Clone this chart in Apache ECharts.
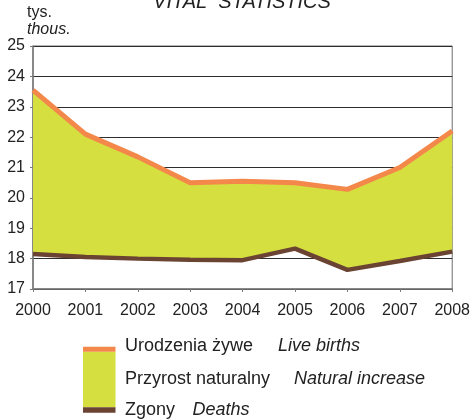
<!DOCTYPE html>
<html>
<head>
<meta charset="utf-8">
<script src="https://cdn.jsdelivr.net/npm/echarts@6/dist/echarts.min.js"></script>
<style>html,body{margin:0;padding:0;background:#fff}#c{width:473px;height:420px}</style>
</head>
<body>
<div id="c"></div>
<script>
var years = ['2000','2001','2002','2003','2004','2005','2006','2007','2008'];
var liveBirths = [23.55, 22.1, 21.35, 20.5, 20.55, 20.5, 20.28, 21.0, 22.2];
var deaths = [18.15, 18.05, 18.0, 17.96, 17.95, 18.33, 17.63, 17.92, 18.23];
var increase = liveBirths.map(function (v, i) { return +(v - deaths[i]).toFixed(3); });

var ORANGE = '#f4874a', GREEN = '#d5df3f', BROWN = '#6b4333';
var FONT = '"Liberation Sans", Arial, sans-serif';

var chart = echarts.init(document.getElementById('c'), null, {renderer: 'canvas'});
chart.setOption({
  animation: false,
  grid: {left: 33, right: 19, top: 46, bottom: 131, show: true, borderColor: '#6e6e6e', borderWidth: 1, backgroundColor: 'transparent'},
  xAxis: {
    type: 'category', data: years, boundaryGap: false,
    axisLine: {lineStyle: {color: '#7a7a7a', width: 1.5}},
    axisTick: {show: true, length: 3, inside: false, lineStyle: {color: '#7a7a7a'}},
    axisLabel: {color: '#222', fontFamily: FONT, fontSize: 16, margin: 14}
  },
  yAxis: {
    type: 'value', min: 17, max: 25, interval: 1,
    axisLine: {show: true, lineStyle: {color: '#7a7a7a', width: 1.5}},
    axisTick: {show: true, length: 3, lineStyle: {color: '#7a7a7a'}},
    axisLabel: {color: '#222', fontFamily: FONT, fontSize: 16, margin: 8},
    splitLine: {show: true, lineStyle: {color: '#2e2e2e', width: 1}}
  },
  series: [
    {name: 'base', type: 'line', stack: 'a', data: deaths, showSymbol: false, symbol: 'none',
     lineStyle: {width: 0, opacity: 0}, areaStyle: {opacity: 0}, z: 2},
    {name: 'Przyrost naturalny', type: 'line', stack: 'a', data: increase, showSymbol: false, symbol: 'none',
     lineStyle: {width: 0, opacity: 0}, areaStyle: {color: GREEN, opacity: 1}, z: 3},
    {name: 'Urodzenia żywe', type: 'line', data: liveBirths, showSymbol: false, symbol: 'none',
     lineStyle: {color: ORANGE, width: 5}, z: 5},
    {name: 'Zgony', type: 'line', data: deaths, showSymbol: false, symbol: 'none',
     lineStyle: {color: BROWN, width: 4.5}, z: 5}
  ],
  graphic: [
    {type: 'text', x: 242, y: 2, style: {text: 'VITAL  STATISTICS', fontFamily: FONT, fontStyle: 'italic', fontSize: 20, fill: '#222', align: 'center', verticalAlign: 'middle'}},
    {type: 'text', x: 27, y: 12.8, style: {text: 'tys.', fontFamily: FONT, fontSize: 16, fill: '#222', verticalAlign: 'middle'}},
    {type: 'text', x: 27, y: 29.5, style: {text: 'thous.', fontFamily: FONT, fontStyle: 'italic', fontSize: 16, fill: '#222', verticalAlign: 'middle'}},
    {type: 'rect', shape: {x: 83, y: 351.7, width: 32.5, height: 55.6}, style: {fill: GREEN}},
    {type: 'rect', shape: {x: 83, y: 346.7, width: 32.5, height: 5}, style: {fill: ORANGE}},
    {type: 'rect', shape: {x: 83, y: 407.3, width: 32.5, height: 5.4}, style: {fill: BROWN}},
    {type: 'text', x: 125, y: 346.1, style: {text: 'Urodzenia żywe', fontFamily: FONT, fontSize: 18, fill: '#222', verticalAlign: 'middle'}},
    {type: 'text', x: 278, y: 346.1, style: {text: 'Live births', fontFamily: FONT, fontStyle: 'italic', fontSize: 18, fill: '#222', verticalAlign: 'middle'}},
    {type: 'text', x: 125, y: 378.8, style: {text: 'Przyrost naturalny', fontFamily: FONT, fontSize: 18, fill: '#222', verticalAlign: 'middle'}},
    {type: 'text', x: 294, y: 378.8, style: {text: 'Natural increase', fontFamily: FONT, fontStyle: 'italic', fontSize: 18, fill: '#222', verticalAlign: 'middle'}},
    {type: 'text', x: 125, y: 409.8, style: {text: 'Zgony', fontFamily: FONT, fontSize: 18, fill: '#222', verticalAlign: 'middle'}},
    {type: 'text', x: 192.5, y: 409.8, style: {text: 'Deaths', fontFamily: FONT, fontStyle: 'italic', fontSize: 18, fill: '#222', verticalAlign: 'middle'}}
  ]
});
</script>
</body>
</html>
